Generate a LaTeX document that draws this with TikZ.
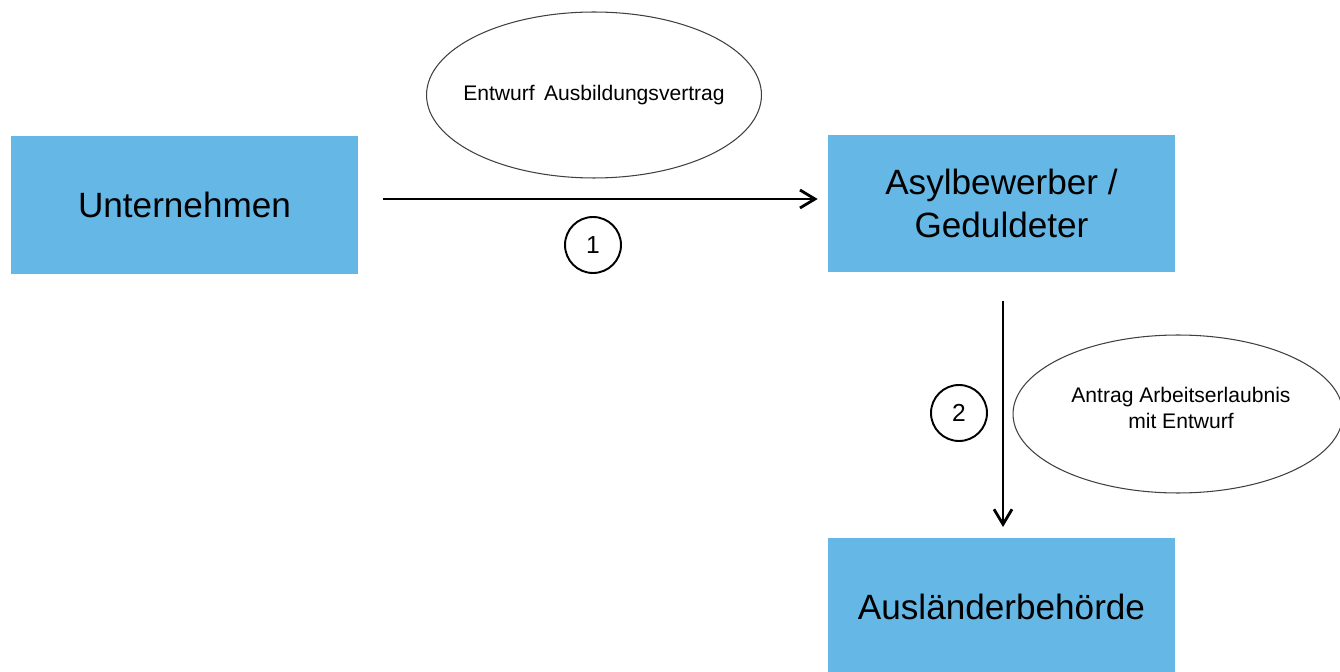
\documentclass[tikz,border=0pt]{standalone}
\usepackage{fontspec}
\setmainfont{Liberation Sans}
\usetikzlibrary{arrows.meta,shapes.geometric}
\definecolor{boxblue}{RGB}{101,184,230}

\begin{document}
\begin{tikzpicture}[x=0.02cm, y=-0.02cm,
	party/.style={fill=boxblue, minimum width=6.94cm, minimum height=2.76cm, align=center, font=\fontsize{20}{24}\selectfont},
	doc/.style={ellipse, draw=black!75, line width=0.6pt, inner sep=0pt},
	doctext/.style={align=center, font=\fontsize{12}{15}\selectfont},
	stepno/.style={circle, draw, line width=1.1pt, minimum size=1.12cm, inner sep=0pt, font=\fontsize{14}{16}\selectfont},
	flow/.style={line width=1.6pt, -{Straight Barb[length=3mm, width=3.6mm, line width=1.6pt]}}]
	\useasboundingbox (0,0) rectangle (1340,672);

	\node[party] (unt) at (184.5,205) {Unternehmen};
	\node[party] (asyl) at (1001.5,203.5) {Asylbewerber /\\Geduldeter};
	\node[party, anchor=north] (ausl) at (1001.5,538) {Ausländerbehörde};

	\node[doc, minimum width=6.7cm, minimum height=3.32cm] (vertrag) at (594,95) {};
	\node[doctext] (vertragtxt) at (vertrag.center) {Entwurf\, Ausbildungsvertrag};
	\node[doc, minimum width=6.6cm, minimum height=3.16cm] (antrag) at (1178,414) {};
	\node[doctext] (antragtxt) at (1181,408) {Antrag Arbeitserlaubnis\\mit Entwurf};

	\draw[flow, shorten <=0.5cm, shorten >=0.2cm] (unt.east |- 0,199) -- (asyl.west |- 0,199);
	\draw[flow, shorten <=0.56cm, shorten >=0.22cm] ([xshift=0.03cm]asyl.south) -- ([xshift=0.03cm]ausl.north);

	\node[stepno] (s1) at (593,245) {1};
	\node[stepno] (s2) at (959,413) {2};
\end{tikzpicture}
\end{document}
